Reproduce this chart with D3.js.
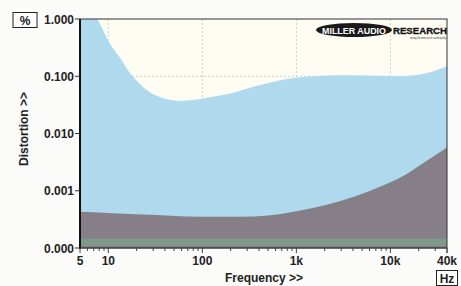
<!DOCTYPE html>
<html><head><meta charset="utf-8">
<script src="https://cdn.jsdelivr.net/npm/d3@7"></script>
<style>html,body{margin:0;padding:0;background:#fbfbf9;}svg{display:block;}</style>
</head><body>
<script>
const blueFreq = [5, 6, 7.6, 10.4, 13.3, 17.7, 22, 27.8, 36, 45, 60, 74, 121, 197, 411, 1096, 3725, 12700, 26400, 40000];
const blueVal  = [2.5, 1.6, 1.0, 0.37, 0.21, 0.104, 0.072, 0.052, 0.043, 0.039, 0.037, 0.038, 0.043, 0.050, 0.070, 0.096, 0.104, 0.100, 0.118, 0.150];
const grayFreq = [5, 10, 28, 94, 250, 500, 1000, 2000, 4000, 8000, 14000, 22000, 40000];
const grayVal  = [0.00043, 0.00041, 0.00038, 0.00035, 0.00035, 0.00037, 0.00044, 0.00056, 0.00078, 0.00120, 0.00185, 0.0030, 0.0057];
const greenFreq = [5, 40000];
const greenTop = [0.000145, 0.000145];
const greenBottom = [0.000108, 0.000108];
const yTicks = [1, 0.1, 0.01, 0.001, 0.0001];
const yTickLabels = ["1.000", "0.100", "0.010", "0.001", "0.000"];
const xTicks = [5, 10, 100, 1000, 10000, 40000];
const xTickLabels = ["5", "10", "100", "1k", "10k", "40k"];

const W = 461, H = 286;
const L = 80, R = 447, T = 19, B = 248;
const svg = d3.select("body").append("svg").attr("width", W).attr("height", H)
  .style("font-family", "Arial, 'Liberation Sans', sans-serif");

const x = d3.scaleLog().domain([5, 40000]).range([L, R]);
const y = d3.scaleLog().domain([0.0001, 1]).range([B, T]);

svg.append("defs").append("clipPath").attr("id", "clip")
  .append("rect").attr("x", L).attr("y", T).attr("width", R - L).attr("height", B - T);

svg.append("rect").attr("x", L).attr("y", T).attr("width", R - L).attr("height", B - T).attr("fill", "#fefcf3");

// grid
const g = svg.append("g");
[10, 100, 1000, 10000].forEach(f => g.append("line").attr("x1", x(f)).attr("x2", x(f)).attr("y1", T).attr("y2", B)
  .attr("stroke", "#c4c4bc").attr("stroke-width", 0.8).attr("stroke-dasharray", "2,2"));
[0.1, 0.01, 0.001].forEach(v => g.append("line").attr("x1", L).attr("x2", R).attr("y1", y(v)).attr("y2", y(v))
  .attr("stroke", "#c4c4bc").attr("stroke-width", 0.8).attr("stroke-dasharray", "2,2"));

const plot = svg.append("g").attr("clip-path", "url(#clip)");
const blue = blueFreq.map((f, i) => [f, blueVal[i]]);
const gray = grayFreq.map((f, i) => [f, grayVal[i]]);
const green = greenFreq.map((f, i) => [f, greenTop[i], greenBottom[i]]);

plot.append("path").datum(blue)
  .attr("d", d3.area().x(d => x(d[0])).y0(B + 2).y1(d => y(d[1])).curve(d3.curveMonotoneX))
  .attr("fill", "#afdaed");
plot.append("path").datum(gray)
  .attr("d", d3.area().x(d => x(d[0])).y0(B + 2).y1(d => y(d[1])).curve(d3.curveMonotoneX))
  .attr("fill", "#877f88");
plot.append("path").datum(green)
  .attr("d", d3.area().x(d => x(d[0])).y0(d => y(d[2])).y1(d => y(d[1])))
  .attr("fill", "#80998a");

// frame
svg.append("rect").attr("x", L).attr("y", T).attr("width", R - L).attr("height", B - T)
  .attr("fill", "none").attr("stroke", "#333").attr("stroke-width", 1);
svg.append("line").attr("x1", L).attr("x2", L).attr("y1", T).attr("y2", B + 1).attr("stroke", "#111").attr("stroke-width", 2);
svg.append("line").attr("x1", L).attr("x2", R).attr("y1", B).attr("y2", B).attr("stroke", "#444").attr("stroke-width", 1);

// y axis
yTicks.forEach((v, i) => {
  svg.append("line").attr("x1", L - 5).attr("x2", L).attr("y1", y(v)).attr("y2", y(v)).attr("stroke", "#333").attr("stroke-width", 1);
  svg.append("text").attr("x", L - 6).attr("y", y(v) + 4.5).attr("text-anchor", "end")
    .attr("font-size", 12).attr("font-weight", "bold").attr("fill", "#222").text(yTickLabels[i]);
});

// x minor ticks
const minor = [];
for (let d = 1; d <= 10000; d *= 10) for (let m = 1; m <= 9; m++) { const f = d * m; if (f >= 5 && f <= 40000) minor.push(f); }
minor.push(40000);
svg.selectAll(".mt").data(minor).enter().append("line")
  .attr("x1", d => x(d)).attr("x2", d => x(d)).attr("y1", B).attr("y2", d => xTicks.includes(d) ? B + 5 : B + 3)
  .attr("stroke", "#444").attr("stroke-width", 1);
xTicks.forEach((f, i) => {
  svg.append("text").attr("x", x(f)).attr("y", 265).attr("text-anchor", "middle")
    .attr("font-size", 12).attr("font-weight", "bold").attr("fill", "#222").text(xTickLabels[i]);
});

svg.append("text").attr("x", 264).attr("y", 282).attr("text-anchor", "middle")
  .attr("font-size", 12).attr("font-weight", "bold").attr("fill", "#222").text("Frequency >>");
svg.append("text").attr("transform", "translate(28,129) rotate(-90)").attr("text-anchor", "middle")
  .attr("font-size", 12).attr("font-weight", "bold").attr("fill", "#222").text("Distortion >>");

// unit boxes
svg.append("rect").attr("x", 13).attr("y", 12.5).attr("width", 24).attr("height", 15).attr("fill", "#fff").attr("stroke", "#222").attr("stroke-width", 1);
svg.append("text").attr("x", 25).attr("y", 24.5).attr("text-anchor", "middle").attr("font-size", 12).attr("font-weight", "bold").attr("fill", "#222").text("%");
svg.append("rect").attr("x", 436.5).attr("y", 270.5).attr("width", 21).attr("height", 15).attr("fill", "#fff").attr("stroke", "#222").attr("stroke-width", 1);
svg.append("text").attr("x", 447).attr("y", 282.5).attr("text-anchor", "middle").attr("font-size", 12).attr("font-weight", "bold").attr("fill", "#222").text("Hz");

// logo
svg.append("ellipse").attr("cx", 354).attr("cy", 30).attr("rx", 38).attr("ry", 7).attr("fill", "#1a1a1a");
svg.append("text").attr("x", 354).attr("y", 33.5).attr("text-anchor", "middle").attr("font-size", 9).attr("font-weight", "bold")
  .attr("fill", "#fff").attr("textLength", 64).attr("lengthAdjust", "spacingAndGlyphs").text("MILLER AUDIO");
svg.append("text").attr("x", 393).attr("y", 33.5).attr("font-size", 9).attr("font-weight", "bold")
  .attr("fill", "#111").attr("stroke", "#111").attr("stroke-width", 0.3)
  .attr("textLength", 54).attr("lengthAdjust", "spacingAndGlyphs").text("RESEARCH");
svg.append("text").attr("x", 410).attr("y", 39).attr("font-size", 3).attr("fill", "#333")
  .attr("textLength", 36).attr("lengthAdjust", "spacingAndGlyphs").text("setting the measure of sound quality");
</script>
</body></html>
